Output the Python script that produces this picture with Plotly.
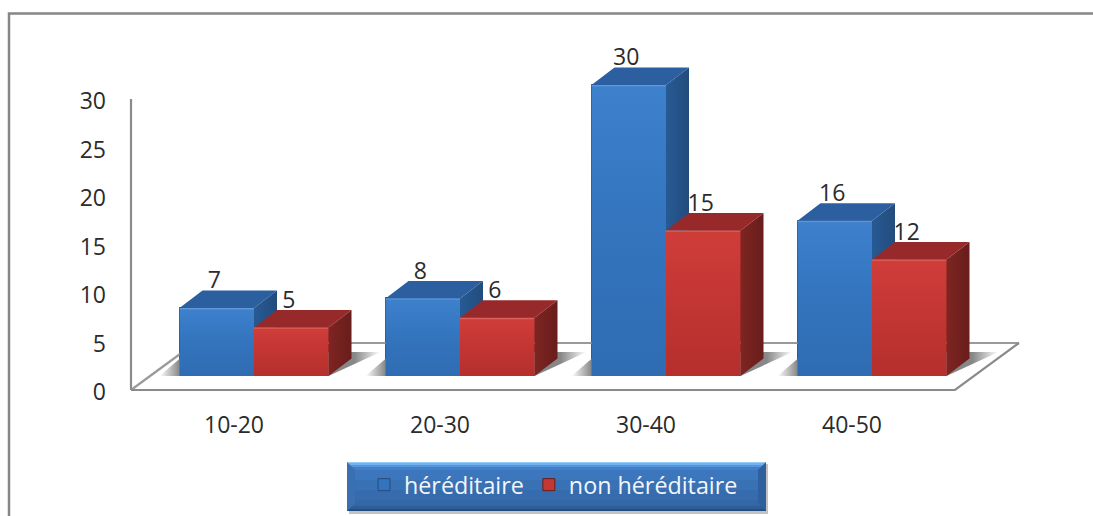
import plotly.graph_objects as go

categories = ["10-20", "20-30", "30-40", "40-50"]
hereditaire = [7, 8, 30, 16]
non_hereditaire = [5, 6, 15, 12]
y_ticks = [0, 5, 10, 15, 20, 25, 30]

W, H = 1093, 516
FONT = "Open Sans"
# scale of the axes in pixels per unit
UX, UY = 206.0, 9.7
X0_PX, Y0_PX = 131.0, 390.0
# projection of the floor (full depth) in data units
FLOOR_DX, FLOOR_DY = 64 / UX, 47 / UY
# bars stand this far into the floor and are this deep
LIFT_X, LIFT_Y = 20 / UX, 14 / UY
DEPTH_X, DEPTH_Y = 23 / UX, 17.5 / UY
BAR_W = 74.5 / UX

STYLE = {
    "blue": dict(front=["#2f6cb2", "#3475bf", "#3d80cc", "#6a9fdc"],
                 top="#2b5f9f", side=[(0, "#275a94"), (1, "#234c7c")], flat="#3474bd"),
    "red": dict(front=["#b52f2c", "#c33633", "#cf3d39", "#e0706b"],
                top="#98292a", side=[(0, "#7e2522"), (1, "#691d1b")], flat="#c43733"),
}

fig = go.Figure()


def poly(xs, ys, fill=None, grad=None, gtype="vertical", start=None, stop=None):
    kw = dict(x=xs + xs[:1], y=ys + ys[:1], mode="lines", line=dict(width=0),
              fill="toself", hoverinfo="skip", showlegend=False)
    if grad is not None:
        kw["fillgradient"] = dict(type=gtype, colorscale=grad, start=start, stop=stop)
    else:
        kw["fillcolor"] = fill
    fig.add_trace(go.Scatter(**kw))


def edge(xs, ys, color="#8a8a8a", width=2.2):
    fig.add_trace(go.Scatter(x=xs, y=ys, mode="lines", line=dict(color=color, width=width),
                             hoverinfo="skip", showlegend=False))


centers = [i + 0.5 + LIFT_X for i in range(len(categories))]

# real bars (front faces, legend swatches)
fig.add_trace(go.Bar(x=[c - BAR_W / 2 for c in centers], y=hereditaire, base=LIFT_Y, width=BAR_W,
                     name="héréditaire", marker=dict(color=STYLE["blue"]["flat"], line=dict(width=1, color="#234c7c")),
                     hoverinfo="skip"))
fig.add_trace(go.Bar(x=[c + BAR_W / 2 for c in centers], y=non_hereditaire, base=LIFT_Y, width=BAR_W,
                     name="non héréditaire", marker=dict(color=STYLE["red"]["flat"], line=dict(width=1, color="#691d1b")),
                     hoverinfo="skip"))

# walls and floor
n = len(categories)
edge([0, 0], [0, y_ticks[-1]])
edge([n + FLOOR_DX, FLOOR_DX], [FLOOR_DY, FLOOR_DY], color="#9a9a9a")
edge([0, FLOOR_DX], [0, FLOOR_DY], color="#9a9a9a")
edge([0, n, n + FLOOR_DX], [0, 0, FLOOR_DY])

# soft shadows on the floor
for c in centers:
    xl, xr = c - BAR_W, c + BAR_W
    ext_l, ext_r = 20 / UX, 52 / UX
    g0, g1 = xl - ext_l, xr + ext_r
    span = g1 - g0
    scale = [(0, "rgba(135,135,135,0)"),
             (ext_l / span, "rgba(135,135,135,1)"),
             ((xr + 26 / UX - g0) / span, "rgba(135,135,135,1)"),
             (1, "rgba(135,135,135,0)")]
    poly([xl - ext_l, xr, g1, xl + 8 / UX],
         [LIFT_Y, LIFT_Y, LIFT_Y + 24 / UY, LIFT_Y + 24 / UY],
         grad=scale, gtype="horizontal", start=g0, stop=g1)


def bar3d(x0, value, style):
    x1 = x0 + BAR_W
    ytop = LIFT_Y + value
    s = STYLE[style]
    poly([x0, x1, x1 + DEPTH_X, x0 + DEPTH_X],
         [ytop, ytop, ytop + DEPTH_Y, ytop + DEPTH_Y], fill=s["top"])
    poly([x1, x1 + DEPTH_X, x1 + DEPTH_X, x1],
         [LIFT_Y, LIFT_Y + DEPTH_Y, ytop + DEPTH_Y, ytop],
         grad=s["side"], gtype="horizontal", start=x1, stop=x1 + DEPTH_X)
    rim = 2.0 / (value * UY)
    c = s["front"]
    scale = [(0, c[0]), (0.55, c[1]), (1 - rim, c[2]), (1, c[3])]
    poly([x0, x1, x1, x0], [LIFT_Y, LIFT_Y, ytop, ytop],
         grad=scale, gtype="vertical", start=LIFT_Y, stop=ytop)


for c, a, b in zip(centers, hereditaire, non_hereditaire):
    bar3d(c - BAR_W, a, "blue")
    bar3d(c, b, "red")

# data labels
lab_dy = 25.5 / UY + LIFT_Y
lab_dx = -2.5 / UX
fig.add_trace(go.Scatter(
    x=[c - BAR_W / 2 + lab_dx for c in centers] + [c + BAR_W / 2 + lab_dx for c in centers],
    y=[v + lab_dy for v in hereditaire] + [v + lab_dy for v in non_hereditaire],
    text=[str(v) for v in hereditaire + non_hereditaire],
    mode="text", textposition="middle center",
    textfont=dict(family=FONT, size=23, color="#2b2b2b"),
    hoverinfo="skip", showlegend=False, cliponaxis=False))

px = lambda v: v / W
py = lambda v: 1 - v / H

shapes = [
    # outer chart frame, running off the right and bottom
    dict(type="path", path=f"M {px(1100)} {py(13.5)} L {px(9)} {py(13.5)} L {px(9)} {py(530)}",
         xref="paper", yref="paper", line=dict(color="#868686", width=2.5), layer="below"),
]
# legend button, stacked bands
shapes.append(dict(type="rect", xref="paper", yref="paper", x0=px(349), x1=px(768), y0=py(464), y1=py(514),
                   fillcolor="rgba(120,120,120,0.45)", line_width=0))
bands = [(462, 463, "#9ccdf5"), (463, 465, "#72b2ee"), (465, 467, "#5596de"), (467, 470, "#437fc9"),
         (470, 480, "#3c76bc"), (480, 490, "#3971b5"), (490, 500, "#366cae"), (500, 506, "#3367a6"),
         (506, 509, "#2e5d98"), (509, 511, "#254e80")]
for y0, y1, col in bands:
    shapes.append(dict(type="rect", xref="paper", yref="paper", x0=px(347), x1=px(766), y0=py(y0), y1=py(y1),
                       fillcolor=col, line_width=0))
# side bevels of the button
for pts, col in [(((347, 462), (355, 470), (355, 503), (347, 511)), "#3a70b2"),
                 (((766, 462), (758, 470), (758, 503), (766, 511)), "#2f5f9c")]:
    path = "M " + " L ".join(f"{px(a)} {py(b)}" for a, b in pts) + " Z"
    shapes.append(dict(type="path", path=path, xref="paper", yref="paper", fillcolor=col, line_width=0))

fig.update_layout(
    width=W, height=H, autosize=False,
    margin=dict(l=0, r=0, t=0, b=0, pad=0),
    paper_bgcolor="white", plot_bgcolor="rgba(0,0,0,0)",
    barmode="overlay", bargap=0,
    font=dict(family=FONT, size=23, color="#2b2b2b"),
    shapes=shapes,
    xaxis=dict(domain=[px(120), 1], range=[(120 - X0_PX) / UX, (W - X0_PX) / UX],
               tickmode="array", tickvals=[i + 0.5 for i in range(n)], ticktext=categories,
               showgrid=False, zeroline=False, showline=False, ticks="", automargin=False,
               ticklabelstandoff=14, tickfont=dict(family=FONT, size=23, color="#2b2b2b")),
    yaxis=dict(domain=[py(395), py(20)], range=[(Y0_PX - 395) / UY, (Y0_PX - 20) / UY],
               tickmode="array", tickvals=y_ticks, ticktext=[str(t) for t in y_ticks],
               showgrid=False, zeroline=False, showline=False, ticks="", automargin=False,
               ticklabelstandoff=13, ticklabelshift=2,
               tickfont=dict(family=FONT, size=23, color="#2b2b2b")),
    legend=dict(orientation="h", x=px(364), y=py(463), xanchor="left", yanchor="top",
                bgcolor="rgba(0,0,0,0)", borderwidth=0, itemclick=False, itemdoubleclick=False,
                font=dict(family=FONT, size=23.3, color="#f2f6fb"), tracegroupgap=0),
)

fig.write_html("out.html", config={"displayModeBar": False},
               post_script="document.body.style.margin='0';")
